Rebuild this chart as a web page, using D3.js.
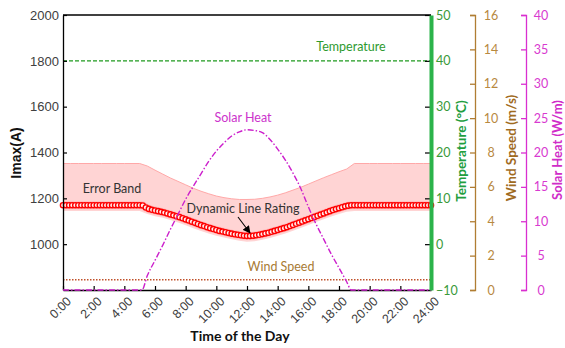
<!DOCTYPE html>
<html>
<head>
<meta charset="utf-8">
<script src="https://cdn.jsdelivr.net/npm/d3@7"></script>
<style>
  html, body { margin: 0; padding: 0; background: #fff; }
  svg { display: block; }
</style>
</head>
<body>
<svg id="chart" width="565" height="348"></svg>
<script>
// ---------------- DATA ----------------
const xTickLabels = ["0:00","2:00","4:00","6:00","8:00","10:00","12:00","14:00","16:00","18:00","20:00","22:00","24:00"];
const xTickValues = [0,2,4,6,8,10,12,14,16,18,20,22,24];
const imaxTicks = [1000,1200,1400,1600,1800,2000];
const tempTicks = [-10,0,10,20,30,40,50];
const windTicks = [0,2,4,6,8,10,12,14,16];
const solarTicks = [0,5,10,15,20,25,30,35,40];

// Dynamic Line Rating (A), sampled every 12 minutes
const dlrTimes = [0,0.2,0.4,0.6,0.8,1,1.2,1.4,1.6,1.8,2,2.2,2.4,2.6,2.8,3,3.2,3.4,3.6,3.8,4,4.2,4.4,4.6,4.8,5,5.2,
  5.4,5.6,5.8,6,6.2,6.4,6.6,6.8,7,7.2,7.4,7.6,7.8,8,8.2,8.4,8.6,8.8,9,9.2,9.4,9.6,9.8,10,10.2,10.4,10.6,10.8,11,11.2,11.4,11.6,11.8,
  12,12.2,12.4,12.6,12.8,13,13.2,13.4,13.6,13.8,14,14.2,14.4,14.6,14.8,15,15.2,15.4,15.6,15.8,16,16.2,16.4,16.6,16.8,17,17.2,17.4,17.6,17.8,
  18,18.2,18.4,18.6,18.8,19,19.2,19.4,19.6,19.8,20,20.2,20.4,20.6,20.8,21,21.2,21.4,21.6,21.8,22,22.2,22.4,22.6,22.8,23,23.2,23.4,23.6,23.8,24];
const dlrValues = [1170,1170,1170,1170,1170,1170,1170,1170,1170,1170,1170,1170,1170,1170,1170,1170,1170,1170,1170,1170,1170,1170,1170,1170,1170,1170,1169,
  1160,1154,1150,1147,1144,1141,1138,1134,1130,1126,1122,1118,1113,1108,1103,1098,1093,1088,1083,1079,1074,1070,1066,1062,1058,1055,1052,1049,1046,1043,1041,1039,1037,
  1036,1036,1037,1039,1041,1044,1047,1050,1054,1058,1062,1066,1070,1074,1079,1084,1089,1094,1099,1104,1109,1114,1119,1124,1129,1134,1139,1144,1149,1153,
  1157,1161,1165,1168,1170,1170,1170,1170,1170,1170,1170,1170,1170,1170,1170,1170,1170,1170,1170,1170,1170,1170,1170,1170,1170,1170,1170,1170,1170,1170,1170];

// Error band (A), every 30 minutes
const bandTimes = [0,0.5,1,1.5,2,2.5,3,3.5,4,4.5,5,5.5,6,6.5,7,7.5,8,8.5,9,9.5,10,10.5,11,11.5,12,
  12.5,13,13.5,14,14.5,15,15.5,16,16.5,17,17.5,18,18.5,19,19.5,20,20.5,21,21.5,22,22.5,23,23.5,24];
const bandUpper = [1352,1352,1352,1352,1352,1352,1352,1352,1352,1352,1352,1341,1323,1306,1289,1274,1259,1244,1231,1220,1210,1203,1198,1195,1195,
  1196,1200,1206,1214,1224,1236,1248,1262,1276,1290,1303,1316,1328,1352,1352,1352,1352,1352,1352,1352,1352,1352,1352,1352];
const bandLower = [1145,1145,1145,1145,1145,1145,1145,1145,1145,1145,1145,1132,1122,1115,1105,1095,1083,1070,1058,1047,1037,1029,1021,1015,1011,
  1013,1019,1027,1037,1047,1059,1071,1084,1097,1109,1121,1132,1142,1145,1145,1145,1145,1145,1145,1145,1145,1145,1145,1145];

// Solar heat (W/m)
const solarTimes = [0,5.15,5.5,6,6.5,7,7.5,8,8.5,9,9.5,10,10.5,11,11.5,12,12.5,13,13.5,14,14.5,15,15.5,16,16.5,17,17.5,18,18.5,18.8,24];
const solarValues = [0,0,2.1,4.3,6.5,8.8,11.0,13.2,15.1,16.9,18.7,20.2,21.4,22.4,23.0,23.3,23.2,22.9,21.9,20.5,18.9,17.0,14.8,12.1,9.6,7.4,5.2,3.2,1.2,0,0];

// Temperature (°C) and wind speed (m/s)
const tempTimes = [0,24];
const tempValues = [40,40];
const windTimes = [0,24];
const windValues = [0.6,0.6];

// ---------------- CHART ----------------
const svg = d3.select("#chart");
const L = 63, R = 431, T = 15, B = 290;

const x = d3.scaleLinear().domain([0,24]).range([L,R]);
const yI = d3.scaleLinear().domain([800,2000]).range([B,T]);
const yT = d3.scaleLinear().domain([-10,50]).range([B,T]);
const yW = d3.scaleLinear().domain([0,16]).range([B,T]);
const yS = d3.scaleLinear().domain([0,40]).range([B,T]);

const sansCal = "Lato, 'Open Sans', sans-serif";
const sansAr = "'Liberation Sans', Arial, sans-serif";

// Error band
const band = bandTimes.map((t,i)=>({t, u:bandUpper[i], l:bandLower[i]}));
svg.append("path").datum(band)
  .attr("d", d3.area().x(d=>x(d.t)).y0(d=>yI(d.l)).y1(d=>yI(d.u)))
  .attr("fill", "#ffd4d4");
svg.append("path").datum(band)
  .attr("d", d3.line().x(d=>x(d.t)).y(d=>yI(d.u)))
  .attr("fill", "none").attr("stroke", "#ffa8a8").attr("stroke-width", 1);

// Temperature line
svg.append("path").datum(tempTimes.map((t,i)=>({t, v:tempValues[i]})))
  .attr("d", d3.line().x(d=>x(d.t)).y(d=>yT(d.v)))
  .attr("fill","none").attr("stroke","#1f9a1f").attr("stroke-width",1.4)
  .attr("stroke-dasharray","4,2");

// Wind speed line
svg.append("path").datum(windTimes.map((t,i)=>({t, v:windValues[i]})))
  .attr("d", d3.line().x(d=>x(d.t)).y(d=>yW(d.v)))
  .attr("fill","none").attr("stroke","#c0502a").attr("stroke-width",1.4)
  .attr("stroke-dasharray","1.5,1.5");

// DLR markers
const dlr = dlrTimes.map((t,i)=>({t, v:dlrValues[i]}));
svg.append("path").datum(dlr)
  .attr("d", d3.line().x(d=>x(d.t)).y(d=>yI(d.v)))
  .attr("fill","none").attr("stroke","#ff9090").attr("stroke-width",8).attr("opacity",0.35);
svg.append("g").selectAll("circle").data(dlr).join("circle")
  .attr("cx", d=>x(d.t)).attr("cy", d=>yI(d.v)).attr("r", 2.6)
  .attr("fill", "#fff0f0").attr("stroke", "#ff0000").attr("stroke-width", 1.4);

// Frame / left axis
const gL = svg.append("g").attr("transform", `translate(${L},0)`)
  .call(d3.axisLeft(yI).tickValues(imaxTicks).tickFormat(d3.format("d")).tickSizeInner(-4).tickSizeOuter(0).tickPadding(4));
gL.select(".domain").attr("stroke","#000").attr("stroke-width",1.3);
gL.selectAll(".tick line").attr("stroke","#000").attr("stroke-width",1.2);
gL.selectAll(".tick text").attr("fill","#404040").style("font-family",sansAr).style("font-size","13px");

// mirrored ticks on right of plot
const gRm = svg.append("g").attr("transform", `translate(${R},0)`)
  .call(d3.axisRight(yI).tickValues(imaxTicks).tickSizeInner(-6).tickSizeOuter(0).tickFormat(""));
gRm.select(".domain").remove();
gRm.selectAll(".tick line").attr("stroke","#000").attr("stroke-width",1.2);

// top border
svg.append("line").attr("x1",L).attr("x2",R).attr("y1",T).attr("y2",T).attr("stroke","#000").attr("stroke-width",1.3);

// bottom axis
const gB = svg.append("g").attr("transform", `translate(0,${B})`)
  .call(d3.axisBottom(x).tickValues(xTickValues).tickSizeInner(-4).tickSizeOuter(0).tickFormat(""));
gB.select(".domain").attr("stroke","#000").attr("stroke-width",1.3);
gB.selectAll(".tick line").attr("stroke","#000").attr("stroke-width",1.2);
svg.append("g").selectAll("text").data(xTickValues).join("text")
  .attr("transform", (d)=>`translate(${x(d)+9},${B+12}) rotate(-45)`)
  .attr("text-anchor","end")
  .attr("fill","#404040").style("font-family",sansAr).style("font-size","12.5px")
  .text((d,i)=>xTickLabels[i]);

// Solar heat line
svg.append("path").datum(solarTimes.map((t,i)=>({t, v:solarValues[i]})))
  .attr("d", d3.line().curve(d3.curveMonotoneX).x(d=>x(d.t)).y(d=>yS(d.v)))
  .attr("fill","none").attr("stroke","#cc1fcc").attr("stroke-width",1.4)
  .attr("stroke-dasharray","6,2,1.5,2");

// Temperature axis (thick green)
const gT = svg.append("g").attr("transform", `translate(${R},0)`)
  .call(d3.axisRight(yT).tickValues(tempTicks).tickSizeInner(0).tickSizeOuter(0).tickPadding(5));
gT.select(".domain").attr("stroke","#2bb34a").attr("stroke-width",4);
gT.selectAll(".tick text").attr("fill","#3a9a3a").style("font-family",sansCal).style("font-size","12.5px");

// Wind speed axis
const gW = svg.append("g").attr("transform", `translate(475,0)`)
  .call(d3.axisRight(yW).tickValues(windTicks).tickSizeInner(-5).tickSizeOuter(-5).tickPadding(16));
gW.select(".domain").attr("stroke","#b07d33").attr("stroke-width",1.3);
gW.selectAll(".tick line").attr("stroke","#b07d33").attr("stroke-width",1.3);
gW.selectAll(".tick text").attr("text-anchor","middle").attr("fill","#b8893f").style("font-family",sansCal).style("font-size","12.5px");

// Solar heat axis
const gS = svg.append("g").attr("transform", `translate(526,0)`)
  .call(d3.axisRight(yS).tickValues(solarTicks).tickSizeInner(-5).tickSizeOuter(-5).tickPadding(15));
gS.select(".domain").attr("stroke","#d92fd0").attr("stroke-width",1.3);
gS.selectAll(".tick line").attr("stroke","#d92fd0").attr("stroke-width",1.3);
gS.selectAll(".tick text").attr("text-anchor","middle").attr("fill","#d83ad0").style("font-family",sansCal).style("font-size","12.5px");

// Axis titles
function vTitle(cx, cy, txt, color, font, size){
  svg.append("text").attr("transform",`translate(${cx},${cy}) rotate(-90)`)
    .attr("text-anchor","middle").attr("dominant-baseline","central")
    .attr("fill",color).style("font-family",font).style("font-size",size).style("font-weight","bold")
    .text(txt);
}
vTitle(16, 153, "Imax(A)", "#111", sansAr, "14px");
vTitle(461, 151, "Temperature (°C)", "#1f9e3f", sansCal, "13.5px");
vTitle(511, 148, "Wind Speed (m/s)", "#a06b1f", sansCal, "13.5px");
vTitle(557, 150, "Solar Heat (W/m)", "#d02cc8", sansCal, "13px");

svg.append("text").attr("x",240).attr("y",341).attr("text-anchor","middle")
  .attr("fill","#111").style("font-family",sansCal).style("font-size","14px").style("font-weight","bold")
  .text("Time of the Day");

// Annotations
function note(cx, by, txt, color){
  svg.append("text").attr("x",cx).attr("y",by).attr("text-anchor","middle")
    .attr("fill",color).style("font-family",sansCal).style("font-size","12.5px").text(txt);
}
note(351, 51, "Temperature", "#2e9a2e");
note(243, 122, "Solar Heat", "#cc33cc");
note(112, 193, "Error Band", "#333");
note(243, 213, "Dynamic Line Rating", "#333");
note(281, 271, "Wind Speed", "#a87b35");

// Arrow
svg.append("defs").append("marker").attr("id","ah").attr("viewBox","0 0 10 10")
  .attr("refX",9).attr("refY",5).attr("markerWidth",7).attr("markerHeight",7).attr("orient","auto")
  .append("path").attr("d","M0,0 L10,5 L0,10 z").attr("fill","#000");
svg.append("line").attr("x1",238).attr("y1",217).attr("x2",250).attr("y2",233)
  .attr("stroke","#000").attr("stroke-width",1.1).attr("marker-end","url(#ah)");
</script>
</body>
</html>
